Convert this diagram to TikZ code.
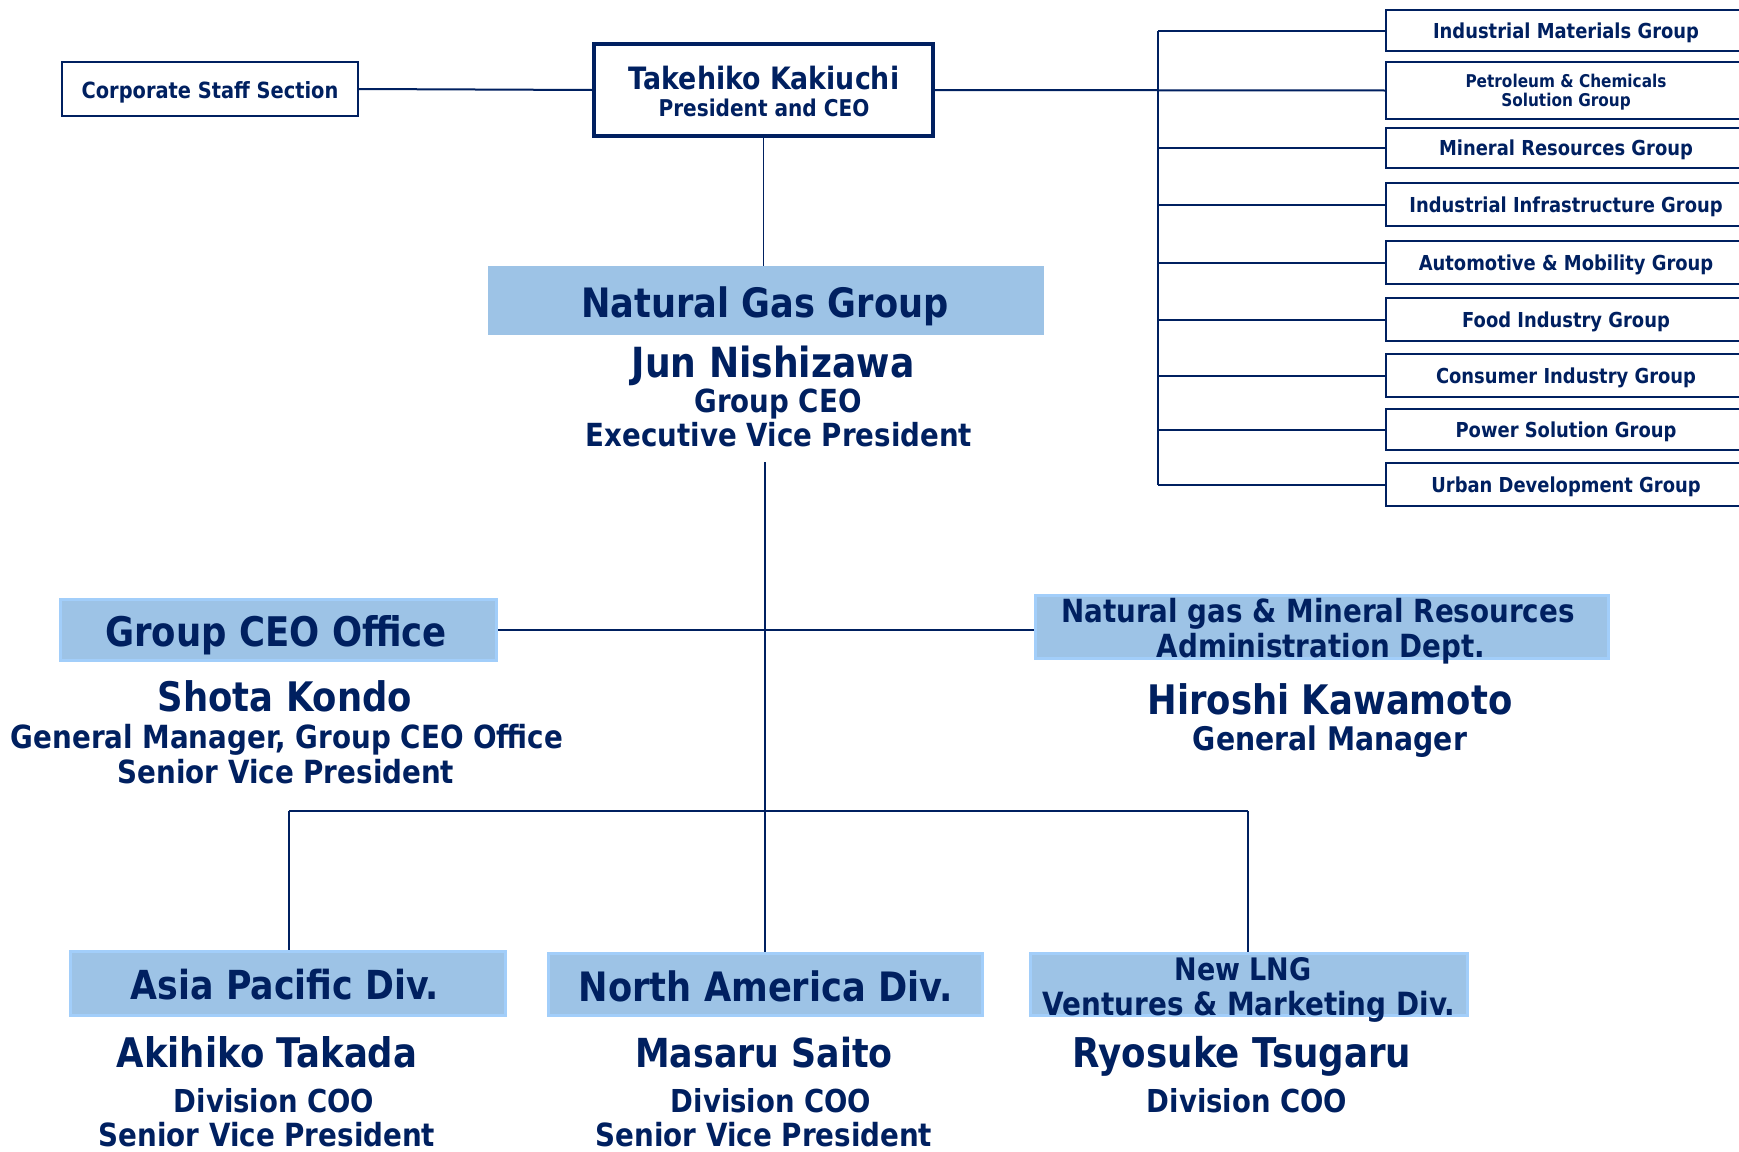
\documentclass[tikz,border=0pt]{standalone}
\usepackage{fontspec}
\setmainfont{DejaVu Sans}[FakeStretch=0.87]
\definecolor{navy}{HTML}{002060}
\definecolor{boxblue}{HTML}{9DC3E6}
\definecolor{lightrim}{HTML}{A2CEFA}
\newcommand{\fsz}[1]{\fontsize{#1pt}{#1pt}\selectfont\bfseries}
\newcommand{\tline}[5]{\node[txt,font=\fsz{#4}] (#1) at (#2,{#3+0.3645*#4}) {#5};}
\tikzset{
  txt/.style={inner sep=0pt, anchor=base, text=navy},
  frame/.style={draw=navy, line width=2pt, rectangle, inner sep=0pt, fill=white},
  bossframe/.style={draw=navy, line width=4pt, rectangle, inner sep=0pt, fill=white},
  bluebox/.style={fill=boxblue, rectangle, inner sep=0pt},
  rimbox/.style={fill=boxblue, draw=lightrim, line width=3pt, rectangle, inner sep=0pt},
  grpbox/.style={draw=navy, line width=2pt, rectangle, inner sep=0pt, minimum width=360pt, fill=white},
  conn/.style={draw=navy, line width=2pt},
  thin/.style={draw=navy, line width=1.6pt}
}
\begin{document}
\begin{tikzpicture}[x=1pt,y=-1pt]
\useasboundingbox (0,0) rectangle (1739,1151);
\fill[white] (0,0) rectangle (1739,1151);
\clip (0,0) rectangle (1739,1151);

% ---- boxes ----
\node[frame, minimum width=296pt, minimum height=54pt] (corp) at (210,89) {};
\node[bossframe, minimum width=339pt, minimum height=92pt] (ceo) at (763.5,90) {};
\node[bluebox, minimum width=556pt, minimum height=69pt] (ngg) at (766,300.5) {};
\node[rimbox, minimum width=436pt, minimum height=61pt] (gco) at (278.5,630) {};
\node[rimbox, minimum width=573pt, minimum height=63pt] (adm) at (1322,627) {};
\node[rimbox, minimum width=435pt, minimum height=64pt] (asia) at (288,983.5) {};
\node[rimbox, minimum width=434pt, minimum height=62pt] (na) at (765.5,984.5) {};
\node[rimbox, minimum width=437pt, minimum height=62pt] (lng) at (1249,984.5) {};

% right-hand groups
\node[grpbox, minimum height=41pt] (g1) at (1566,30.5) {};
\node[grpbox, minimum height=57pt] (g2) at (1566,90.5) {};
\node[grpbox, minimum height=40pt] (g3) at (1566,148) {};
\node[grpbox, minimum height=43pt] (g4) at (1566,204.5) {};
\node[grpbox, minimum height=43pt] (g5) at (1566,262.5) {};
\node[grpbox, minimum height=43pt] (g6) at (1566,319.5) {};
\node[grpbox, minimum height=43pt] (g7) at (1566,375.5) {};
\node[grpbox, minimum height=41pt] (g8) at (1566,429.5) {};
\node[grpbox, minimum height=43pt] (g9) at (1566,484.5) {};

% ---- connectors ----
\coordinate (bus) at (1158,90);
\draw[conn] (corp.east) -- (ceo.west);
\draw[conn] (ceo.east) -- (g2.west);
\draw[conn] (bus |- g1.west) -- (bus |- g9.west);
\foreach \g in {g1,g3,g4,g5,g6,g7,g8,g9} {\draw[conn] (bus |- \g.west) -- (\g.west);}
\draw[thin] (ceo.south) -- (ceo.south |- ngg.north);
\coordinate (vtop) at (765,462);
\draw[thin] (vtop) -- (vtop |- na.north);
\draw[conn] (gco.east) -- (adm.west |- gco.east);
\coordinate (busl) at (289,811);
\coordinate (busr) at (1248,811);
\draw[conn] (busl) -- (busr);
\draw[thin] (busl) -- (busl |- asia.north);
\draw[thin] (busr) -- (busr |- lng.north);

% ---- texts ----
\tline{tcorp}{210}{90}{22.3}{Corporate Staff Section}
\tline{tceoa}{764}{78}{30.8}{Takehiko Kakiuchi}
\tline{tceob}{764}{108}{23.1}{President and CEO}
\tline{tngg}{765}{303}{40.5}{Natural Gas Group}
\tline{tjuna}{773}{362}{41.5}{Jun Nishizawa}
\tline{tjunb}{778}{401}{31.8}{Group CEO}
\tline{tjunc}{779}{435}{31.8}{Executive Vice President}
\tline{tgco}{276}{631.5}{40.8}{Group CEO Office}
\tline{tadma}{1318}{611}{31.9}{Natural gas \& Mineral Resources}
\tline{tadmb}{1321}{646}{31.9}{Administration Dept.}
\tline{tshoa}{285}{697}{40.7}{Shota Kondo}
\tline{tshob}{287}{737}{31.9}{General Manager, Group CEO Office}
\tline{tshoc}{286}{772}{31.9}{Senior Vice President}
\tline{thira}{1330}{700}{40.7}{Hiroshi Kawamoto}
\tline{thirb}{1330}{739}{32.5}{General Manager}
\tline{tasia}{285}{985}{40}{Asia Pacific Div.}
\tline{tna}{766}{987}{40.5}{North America Div.}
\tline{tlnga}{1243}{969}{31}{New LNG}
\tline{tlngb}{1249}{1004}{32}{Ventures \& Marketing Div.}
\tline{takia}{267}{1053}{40.8}{Akihiko Takada}
\tline{takib}{274}{1101}{31.6}{Division COO}
\tline{takic}{267}{1135}{31.9}{Senior Vice President}
\tline{tmasa}{764}{1053}{40}{Masaru Saito}
\tline{tmasb}{771}{1101}{31.6}{Division COO}
\tline{tmasc}{764}{1135}{31.9}{Senior Vice President}
\tline{tryoa}{1242}{1053}{41}{Ryosuke Tsugaru}
\tline{tryob}{1247}{1101}{31.6}{Division COO}

\tline{tga}{1566}{30.5}{20.6}{Industrial Materials Group}
\tline{tgba}{1566}{81}{17.6}{Petroleum \& Chemicals}
\tline{tgbb}{1566}{100}{17.6}{Solution Group}
\tline{tgc}{1566}{148}{20.6}{Mineral Resources Group}
\tline{tgd}{1566}{204.5}{20.6}{Industrial Infrastructure Group}
\tline{tge}{1566}{262.5}{20.6}{Automotive \& Mobility Group}
\tline{tgf}{1566}{319.5}{20.6}{Food Industry Group}
\tline{tgg}{1566}{375.5}{20.6}{Consumer Industry Group}
\tline{tgh}{1566}{429.5}{20.6}{Power Solution Group}
\tline{tgi}{1566}{484.5}{20.6}{Urban Development Group}
\end{tikzpicture}
\end{document}
